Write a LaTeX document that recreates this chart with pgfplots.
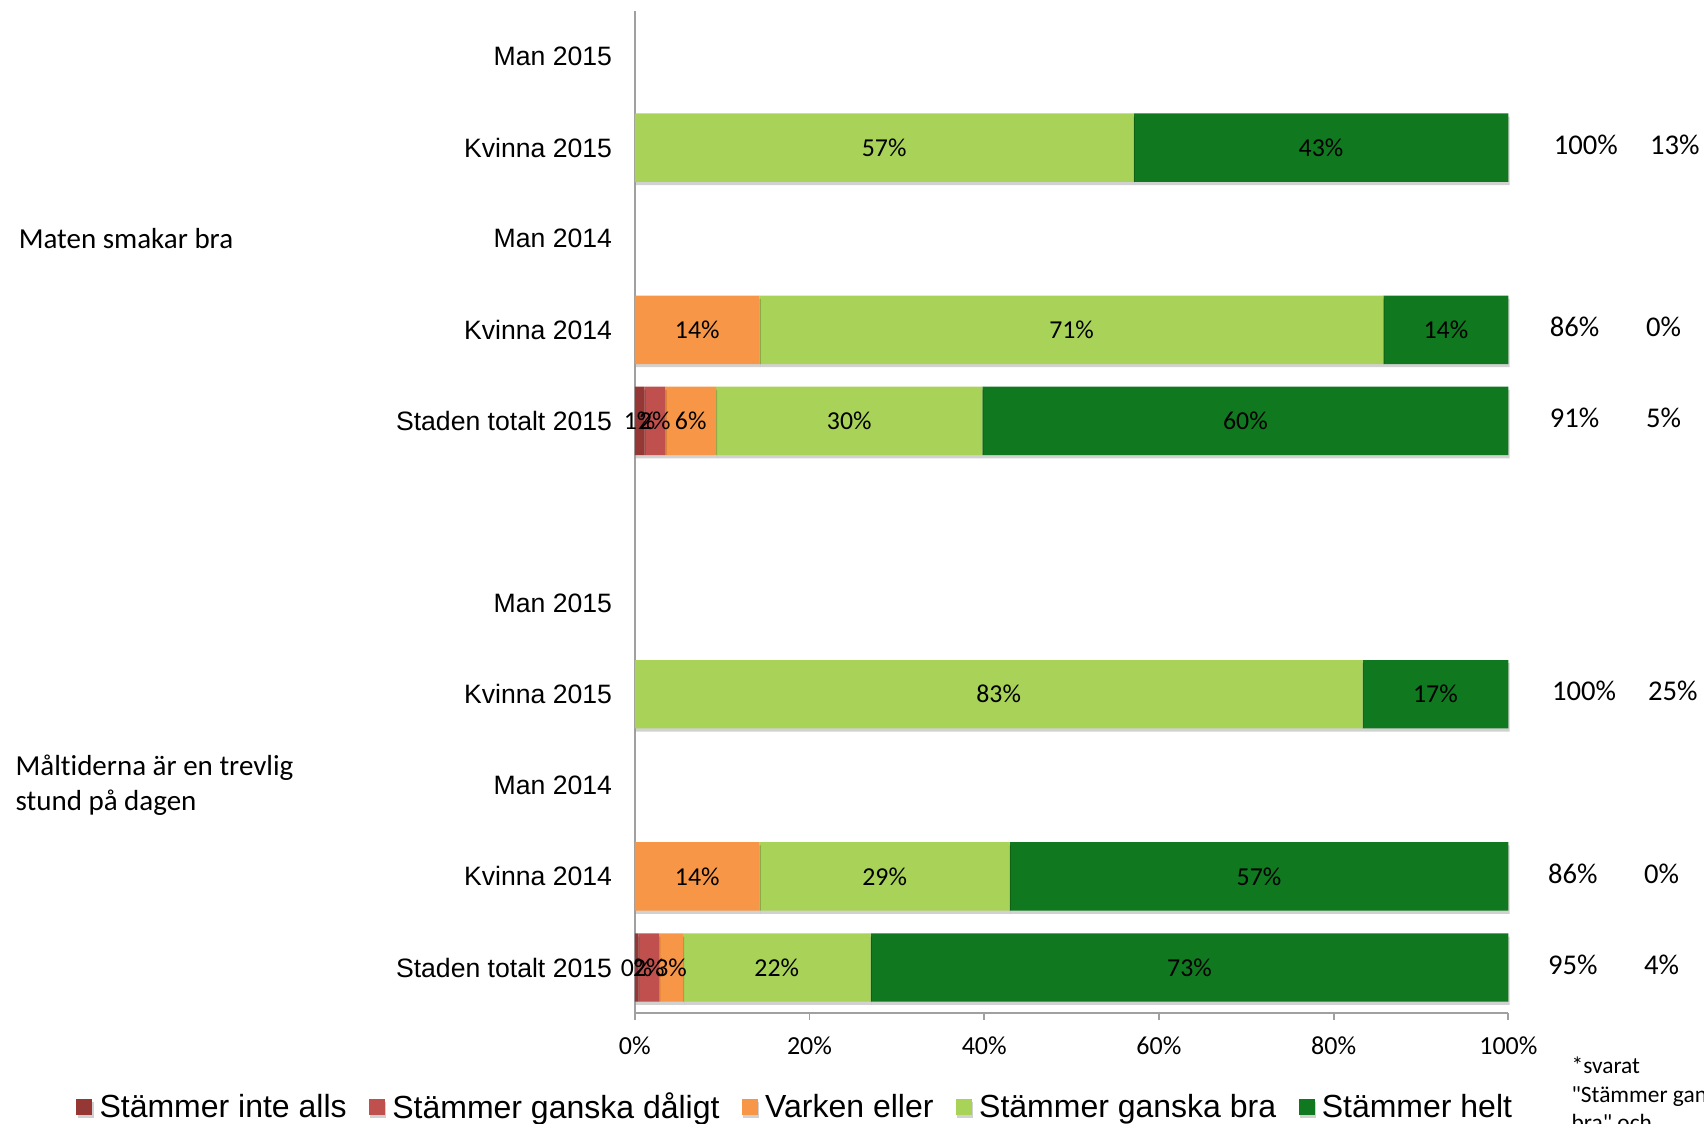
\documentclass[border=0pt]{standalone}
\usepackage{pgfplots}
\pgfplotsset{compat=1.18}
\usepackage{fontspec}
\setmainfont{Carlito}[Ligatures={TeXOff,NoCommon}]
\newfontfamily\arialf{Liberation Sans}
\definecolor{cInte}{RGB}{149,55,53}
\definecolor{cDalig}{RGB}{192,80,77}
\definecolor{cVarken}{RGB}{247,150,70}
\definecolor{cBra}{RGB}{168,210,88}
\definecolor{cHelt}{RGB}{16,120,30}
\definecolor{axgray}{RGB}{160,160,160}
\tikzset{ann/.style={anchor=west, inner sep=0pt, font=\fontsize{14.3}{16}\selectfont},
  foot/.style={anchor=base west, inner sep=0pt, font=\fontsize{11.7}{14}\selectfont},
  grp/.style={anchor=west, align=left, inner sep=0pt, font=\fontsize{14.5}{17.4}\selectfont},
  shadowy/.style={preaction={fill=black, opacity=0.18, transform canvas={xshift=0.6pt, yshift=-1.6pt}}}}
\begin{document}
\begin{tikzpicture}
\begin{axis}[
  name=ax,
  x=4.368pt, y=45.55pt,
  xmin=0, xmax=100, ymin=-0.5, ymax=10.5,
  xbar stacked, bar width=34.2pt,
  axis x line*=bottom, axis y line*=left,
  axis line style={axgray, line width=0.9pt},
  tick align=outside,
  xtick={0,20,40,60,80,100},
  xticklabels={0\%,20\%,40\%,60\%,80\%,100\%},
  xticklabel style={font=\fontsize{13}{15}\selectfont, anchor=base, yshift=-17.3pt},
  x tick style={axgray, line width=0.9pt},
  major tick length=3.5pt,
  ytick={0,1,2,3,4,6,7,8,9,10},
  yticklabels={Staden totalt 2015, Kvinna 2014, Man 2014, Kvinna 2015, Man 2015, Staden totalt 2015, Kvinna 2014, Man 2014, Kvinna 2015, Man 2015},
  y tick style={draw=none},
  yticklabel style={font=\arialf\fontsize{13.3}{15}\selectfont, anchor=east, inner sep=0pt, xshift=-7.7pt},
  clip=false,
  point meta=explicit symbolic,
  nodes near coords,
  every node near coord/.append style={anchor=center, text=black, font=\fontsize{12.9}{15}\selectfont},
  every axis plot/.append style={draw=none, shadowy},
  legend image code/.code={\tikzset{shadowy/.style={}}\fill[#1] (0pt,-4pt) rectangle (8pt,4pt);},
  legend columns=-1,
  legend style={draw=none, fill=none, at={(-0.6397,-0.094)}, anchor=west, inner sep=0pt,
    font=\arialf\fontsize{16}{18}\selectfont,
    /tikz/every even column/.append style={column sep=9.2pt},
    /tikz/every odd column/.append style={column sep=1.6pt}},
]
% Stämmer inte alls
\addplot[fill=cInte] coordinates {
 (0.4,0) [0\%] (0,1) [] (0,2) [] (0,3) [] (0,4) [] (0,5) []
 (1.1,6) [1\%] (0,7) [] (0,8) [] (0,9) [] (0,10) []};
% Stämmer ganska dåligt
\addplot[fill=cDalig] coordinates {
 (2.4,0) [2\%] (0,1) [] (0,2) [] (0,3) [] (0,4) [] (0,5) []
 (2.4,6) [2\%] (0,7) [] (0,8) [] (0,9) [] (0,10) []};
% Varken eller
\addplot[fill=cVarken] coordinates {
 (2.7,0) [3\%] (14.3,1) [14\%] (0,2) [] (0,3) [] (0,4) [] (0,5) []
 (5.8,6) [6\%] (14.3,7) [14\%] (0,8) [] (0,9) [] (0,10) []};
% Stämmer ganska bra
\addplot[fill=cBra] coordinates {
 (21.5,0) [22\%] (28.6,1) [29\%] (0,2) [] (83.3,3) [83\%] (0,4) [] (0,5) []
 (30.5,6) [30\%] (71.4,7) [71\%] (0,8) [] (57.1,9) [57\%] (0,10) []};
% Stämmer helt
\addplot[fill=cHelt] coordinates {
 (73.0,0) [73\%] (57.1,1) [57\%] (0,2) [] (16.7,3) [17\%] (0,4) [] (0,5) []
 (60.2,6) [60\%] (14.3,7) [14\%] (0,8) [] (42.9,9) [43\%] (0,10) []};
\legend{Stämmer inte alls, Stämmer ganska dåligt, Varken eller, Stämmer ganska bra, Stämmer helt}
\end{axis}
% right-hand annotations
\path (ax.south west) ++(459.3pt,434.2pt) node[ann] {100\%};
\path (ax.south west) ++(507.4pt,434.2pt) node[ann] {13\%};
\path (ax.south west) ++(457.3pt,343.1pt) node[ann] {86\%};
\path (ax.south west) ++(505.4pt,343.1pt) node[ann] {0\%};
\path (ax.south west) ++(457.3pt,297.6pt) node[ann] {91\%};
\path (ax.south west) ++(505.4pt,297.6pt) node[ann] {5\%};
\path (ax.south west) ++(458.4pt,160.9pt) node[ann] {100\%};
\path (ax.south west) ++(506.5pt,160.9pt) node[ann] {25\%};
\path (ax.south west) ++(456.4pt,69.8pt) node[ann] {86\%};
\path (ax.south west) ++(504.5pt,69.8pt) node[ann] {0\%};
\path (ax.south west) ++(456.4pt,24.3pt) node[ann] {95\%};
\path (ax.south west) ++(504.5pt,24.3pt) node[ann] {4\%};
% group labels
\path (ax.south west) ++(-308.2pt,387.2pt) node[grp] {Maten smakar bra};
\path (ax.south west) ++(-309.8pt,113.9pt) node[grp] {Måltiderna är en trevlig\\stund på dagen};
% footnote
\path (ax.south west) ++(468.2pt,-30.4pt) node[foot] {*svarat};
\path (ax.south west) ++(468.2pt,-44.5pt) node[foot] {"Stämmer ganska};
\path (ax.south west) ++(468.2pt,-58.6pt) node[foot] {bra" och};
\pgfresetboundingbox
\path ([xshift=-317.4pt,yshift=-55pt]ax.south west) rectangle ([xshift=97.8pt,yshift=5.5pt]ax.north east);
\end{tikzpicture}
\end{document}
